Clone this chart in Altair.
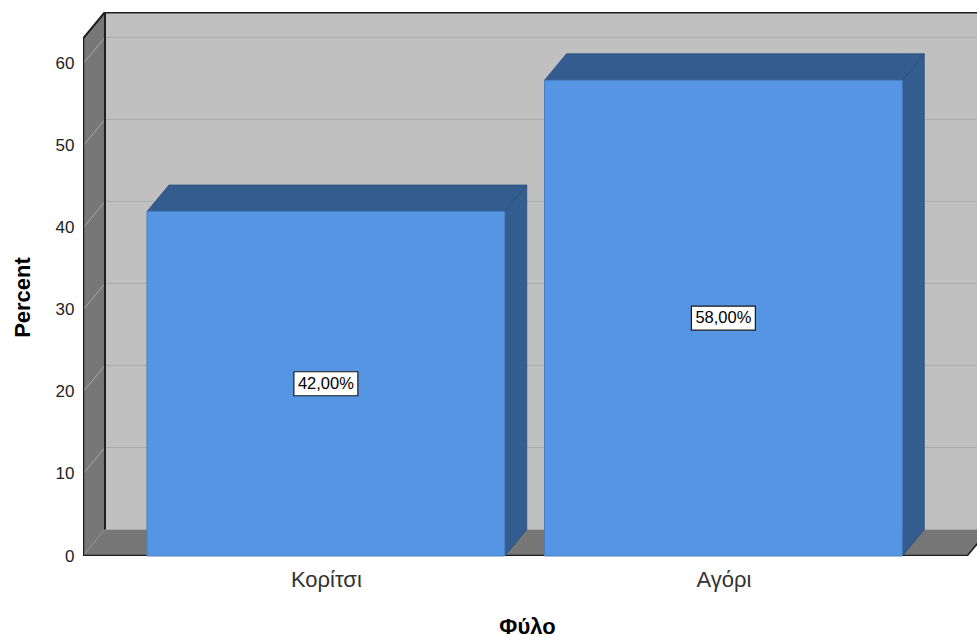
import altair as alt
import pandas as pd

# Data
categories = ["Κορίτσι", "Αγόρι"]
percents = [42.0, 58.0]
y_ticks = [0, 10, 20, 30, 40, 50, 60]
x_title = "Φύλο"
y_title = "Percent"

# 3D box geometry (x in category-slot units, y in percent units)
X_LEFT, X_RIGHT = -0.611, 1.638   # visible x range
FLOOR_L, FLOOR_R = -0.611, 1.613  # front edges of the floor
DX, DY = 0.0553, 3.23             # depth offset of the back plane
HALF = 0.45                       # half bar width
WALL_TOP = 63.1                   # front top of the side wall
Y_MAX = WALL_TOP + DY

FONT = "Liberation Sans"
FRONT = "#5595E3"
SHADE = "#335D8F"
WALL = "#C0C0C0"
SIDE = "#777777"
EDGE = "#1E1E1E"

xs = alt.Scale(domain=[X_LEFT, X_RIGHT], nice=False, zero=False)
ys = alt.Scale(domain=[0, Y_MAX], nice=False, zero=False)

label_expr = " : ".join(
    f"datum.value == {i} ? '{c}'" for i, c in enumerate(categories)
) + " : ''"

x_axis = alt.Axis(values=list(range(len(categories))), labelExpr=label_expr,
                  title=x_title, domain=False, ticks=False, grid=False,
                  labelFont=FONT, labelFontSize=22, labelColor="#333333",
                  labelPadding=13, titleFont=FONT, titleFontSize=22,
                  titleFontWeight="bold", titleColor="#000000", titlePadding=26,
                  titleX=444)
y_axis = alt.Axis(values=y_ticks, title=y_title, domain=False, ticks=False,
                  grid=False, labelFont=FONT, labelFontSize=17,
                  labelColor="#222222", labelPadding=9, titleFont=FONT,
                  titleFontSize=22, titleFontWeight="bold", titleColor="#000000",
                  titleAngle=-90, titleAlign="center", titleBaseline="middle",
                  titleX=-61, titleY=285)

# every layer shares the same scales and axis definitions
def X(field):
    return alt.X(f"{field}:Q", scale=xs, axis=x_axis)

def Y(field):
    return alt.Y(f"{field}:Q", scale=ys, axis=y_axis, stack=None)

# Back wall
back = alt.Chart(pd.DataFrame([{"x": FLOOR_L + DX, "x2": FLOOR_R + DX, "y": DY, "y2": Y_MAX}])).mark_rect(
    color=WALL, clip=True).encode(x=X("x"), x2="x2:Q", y=Y("y"), y2="y2:Q")

grid_back = alt.Chart(pd.DataFrame({"v": y_ticks[1:]})).transform_calculate(
    yy=f"datum.v + {DY}", xa=str(FLOOR_L + DX), xb=str(FLOOR_R + DX)
).mark_rule(color="#AAAAAA", strokeWidth=1, clip=True).encode(
    x=X("xa"), x2="xb:Q", y=Y("yy"))

# Left wall and floor as parallelograms
left_wall = alt.Chart(pd.DataFrame([
    {"x": FLOOR_L, "y": WALL_TOP, "y2": 0},
    {"x": FLOOR_L + DX, "y": Y_MAX, "y2": DY},
])).mark_area(color=SIDE, clip=True).encode(x=X("x"), y=Y("y"), y2="y2:Q")

floor = alt.Chart(pd.DataFrame([
    {"x": FLOOR_L, "y": 0, "y2": 0},
    {"x": FLOOR_L + DX, "y": DY, "y2": 0},
    {"x": FLOOR_R, "y": DY, "y2": 0},
    {"x": FLOOR_R + DX, "y": DY, "y2": DY},
])).mark_area(color=SIDE, clip=True).encode(x=X("x"), y=Y("y"), y2="y2:Q")

grid_side = alt.Chart(pd.DataFrame({"v": y_ticks})).transform_calculate(
    yy=f"datum.v + {DY}", xa=str(FLOOR_L), xb=str(FLOOR_L + DX)
).mark_rule(color="#A8A8A8", strokeWidth=1, clip=True).encode(
    x=X("xa"), x2="xb:Q", y=Y("v"), y2="yy:Q")

edges = alt.Chart(pd.DataFrame([
    {"x": FLOOR_L, "x2": FLOOR_L, "y": 0, "y2": WALL_TOP, "w": 2.5},
    {"x": FLOOR_L, "x2": FLOOR_L + DX, "y": WALL_TOP, "y2": Y_MAX, "w": 2},
    {"x": FLOOR_L + DX, "x2": FLOOR_L + DX, "y": DY, "y2": Y_MAX, "w": 2},
    {"x": FLOOR_L + DX, "x2": X_RIGHT + 0.1, "y": Y_MAX, "y2": Y_MAX, "w": 3},
    {"x": FLOOR_L, "x2": FLOOR_R, "y": 0, "y2": 0, "w": 2.5},
    {"x": FLOOR_R, "x2": FLOOR_R + DX, "y": 0, "y2": DY, "w": 1.5},
])).mark_rule(color=EDGE, clip=True).encode(
    x=X("x"), x2="x2:Q", y=Y("y"), y2="y2:Q",
    strokeWidth=alt.StrokeWidth("w:Q", scale=None))

# Bars: front face, top face, right side face
bars = pd.DataFrame({"cat": categories, "pct": percents,
                     "pos": list(range(len(categories)))})

front = alt.Chart(bars).transform_calculate(
    x0=f"datum.pos - {HALF}", x1=f"datum.pos + {HALF}", base="0"
).mark_rect(color=FRONT, stroke="#4B7FC0", strokeWidth=1).encode(
    x=X("x0"), x2="x1:Q", y=Y("base"), y2="pct:Q")

top_rows, side_rows = [], []
for i, (c, v) in enumerate(zip(categories, percents)):
    x0, x1 = i - HALF, i + HALF
    top_rows += [
        {"cat": c, "x": x0, "y": v, "y2": v},
        {"cat": c, "x": x0 + DX, "y": v + DY, "y2": v},
        {"cat": c, "x": x1, "y": v + DY, "y2": v},
        {"cat": c, "x": x1 + DX, "y": v + DY, "y2": v + DY},
    ]
    side_rows += [
        {"cat": c, "x": x1, "y": v, "y2": 0},
        {"cat": c, "x": x1 + DX, "y": v + DY, "y2": DY},
    ]

top = alt.Chart(pd.DataFrame(top_rows)).mark_area(
    color=SHADE, stroke="#2A4D78", strokeWidth=0.8).encode(
    x=X("x"), y=Y("y"), y2="y2:Q", detail="cat:N")
side = alt.Chart(pd.DataFrame(side_rows)).mark_area(
    color=SHADE, stroke="#2A4D78", strokeWidth=0.8).encode(
    x=X("x"), y=Y("y"), y2="y2:Q", detail="cat:N")

# Value labels in boxes at mid-height
lab = alt.Chart(bars).transform_calculate(
    mid="datum.pct / 2",
    txt="replace(format(datum.pct, '.2f'), '.', ',') + '%'")
box = lab.mark_rect(fill="white", stroke="#1A1A1A", strokeWidth=1.2,
                    xOffset=-32, x2Offset=32, yOffset=-12, y2Offset=12).encode(
    x=X("pos"), x2="pos:Q", y=Y("mid"), y2="mid:Q")
txt = lab.mark_text(font=FONT, fontSize=16.5, color="#000000",
                    baseline="middle", align="center").encode(
    x=X("pos"), y=Y("mid"), text="txt:N")

chart = alt.layer(
    back, grid_back, left_wall, grid_side, floor, edges,
    side, top, front, box, txt
).properties(
    width=894, height=544,
    autosize=alt.AutoSizeParams(type="none"),
    padding={"left": 83, "top": 12, "right": 0, "bottom": 84},
    background="white",
).configure_view(stroke=None)

chart.save("out.html", embed_options={"renderer": "svg", "actions": False})
